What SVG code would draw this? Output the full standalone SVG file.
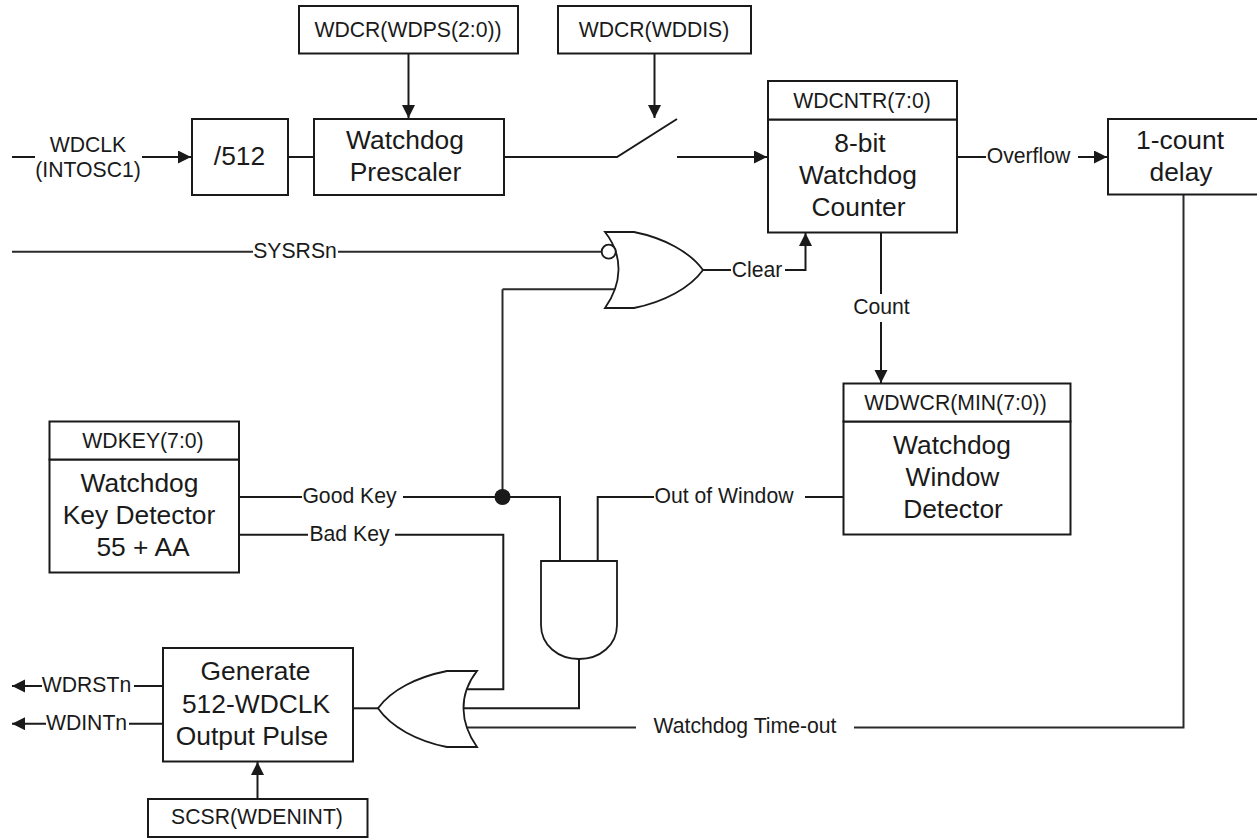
<svg xmlns="http://www.w3.org/2000/svg" width="1257" height="838" viewBox="0 0 1257 838">
<style>
text{font-family:"Liberation Sans",Arial,sans-serif;fill:#1a1a1a;text-anchor:middle}
.b{fill:#fff;stroke:#1a1a1a;stroke-width:2}
.g{fill:#fff;stroke:#1a1a1a;stroke-width:1.8}
.l{font-size:21.2px}
.t{font-size:26.4px}
.c{fill:none;stroke:#1a1a1a;stroke-width:2}
.w{fill:none;stroke:#2a2a2a;stroke-width:2}
.a{fill:#1a1a1a;stroke:none}
</style>
<defs>
<marker id="ah" markerUnits="userSpaceOnUse" markerWidth="14" markerHeight="14" refX="13" refY="6.500" orient="auto"><path class="a" d="M0 0L13 6.500L0 13z"/></marker>
</defs>
<rect width="1257" height="838" fill="#fff"/>
<g id="connectors">
<path class="c" d="M12 157H35"/>
<path class="c" marker-end="url(#ah)" d="M142 157H191"/>
<path class="c" d="M288 157H314"/>
<path class="c" marker-end="url(#ah)" d="M408.500 53V118"/>
<path class="c" marker-end="url(#ah)" d="M654.500 53V118"/>
<path class="c" d="M504 157H617L677 119"/>
<path class="c" marker-end="url(#ah)" d="M677 157H767"/>
<path class="c" d="M957 157H986"/>
<path class="c" marker-end="url(#ah)" d="M1078 157H1107"/>
<path class="w" d="M12 251.700H253"/>
<path class="w" d="M338 251.700H602"/>
<path class="c" d="M703 270H731"/>
<path class="c" marker-end="url(#ah)" d="M785 270H805.500V233"/>
<path class="c" d="M881 232V294"/>
<path class="c" marker-end="url(#ah)" d="M881 322V383"/>
<path class="w" d="M502.500 289.300H615"/>
<path class="w" d="M502.500 289.300V497"/>
<path class="c" d="M239 497H302"/>
<path class="c" d="M403 497H560V561"/>
<path class="c" d="M239 534.700H308"/>
<path class="c" d="M395 534.700H503.300V689.300H467"/>
<path class="c" d="M597.700 561V497H654"/>
<path class="c" d="M805 497H843"/>
<path class="c" d="M579 659V708.300H463"/>
<path class="w" d="M467 727.500H636"/>
<path class="w" d="M854 727.500H1183.500V194"/>
<path class="c" d="M353 708.300H378"/>
<path class="c" marker-end="url(#ah)" d="M42 686H12"/>
<path class="c" marker-end="url(#ah)" d="M46 723.700H12"/>
<path class="c" d="M134 686H163"/>
<path class="c" d="M129 723.700H163"/>
<path class="c" marker-end="url(#ah)" d="M257.500 799V762"/>
<circle class="a" cx="502.500" cy="497" r="8"/>
</g>
<g id="wdclk-label"><text class="l" x="88" y="152">WDCLK</text><text class="l" x="88" y="177">(INTOSC1)</text></g>
<g id="div512"><rect class="b" x="192" y="119" width="96" height="76"/><text class="t" x="239.500" y="165">/512</text></g>
<g id="prescaler"><rect class="b" x="314" y="119" width="190" height="76"/><text class="t" x="405" y="149">Watchdog</text><text class="t" x="405.500" y="181">Prescaler</text></g>
<g id="wdps"><rect class="b" x="299" y="6" width="219" height="47.500"/><text class="l" x="408" y="37">WDCR(WDPS(2:0))</text></g>
<g id="wddis"><rect class="b" x="558" y="6" width="193" height="47.500"/><text class="l" x="654" y="37">WDCR(WDDIS)</text></g>
<g id="counter"><rect class="b" x="768" y="119.500" width="189" height="113"/><rect class="b" x="768" y="81" width="189" height="38.500"/><text class="l" x="862" y="107.500">WDCNTR(7:0)</text><text class="t" x="860" y="152">8-bit</text><text class="t" x="858" y="184">Watchdog</text><text class="t" x="858.500" y="216">Counter</text></g>
<g id="delay"><rect class="b" x="1108" y="119" width="154" height="75.500"/><text class="t" x="1180" y="149">1-count</text><text class="t" x="1181" y="181">delay</text></g>
<g id="nor"><path class="g" d="M605 232H634C664 238 690 252 703 270C690 288 664 302 634 308H605C622 284 624 256 605 232Z"/><circle class="g" cx="608.700" cy="251.700" r="7"/></g>
<g id="window"><rect class="b" x="843.500" y="421.500" width="227" height="113"/><rect class="b" x="843.500" y="383.500" width="227" height="38"/><text class="l" x="955.500" y="409.500">WDWCR(MIN(7:0))</text><text class="t" x="952" y="453.500">Watchdog</text><text class="t" x="952.500" y="486">Window</text><text class="t" x="953" y="518">Detector</text></g>
<g id="key"><rect class="b" x="49.500" y="459.500" width="189.500" height="113"/><rect class="b" x="49.500" y="421.500" width="189.500" height="38"/><text class="l" x="143" y="447.500">WDKEY(7:0)</text><text class="t" x="139.500" y="492">Watchdog</text><text class="t" x="139" y="524">Key Detector</text><text class="t" x="143" y="556">55 + AA</text></g>
<g id="and"><path class="g" d="M541 561H617V625C617 645 600 659 579 659C558 659 541 645 541 625Z"/></g>
<g id="or"><path class="g" d="M477 671H447C417 677 391 690 378 708.300C391 727 417 741 447 747H477C460 723 458 695 477 671Z"/></g>
<g id="pulse"><rect class="b" x="163" y="648" width="190" height="113.500"/><text class="t" x="255.500" y="680">Generate</text><text class="t" x="256" y="712.500">512-WDCLK</text><text class="t" x="252" y="744.500">Output Pulse</text></g>
<g id="scsr"><rect class="b" x="148" y="799" width="219.500" height="38"/><text class="l" x="257" y="823.500">SCSR(WDENINT)</text></g>
<g id="labels">
<text class="l" x="1028.500" y="163">Overflow</text>
<text class="l" x="295" y="258">SYSRSn</text>
<text class="l" x="757" y="277">Clear</text>
<text class="l" x="881.500" y="314">Count</text>
<text class="l" x="349.500" y="503">Good Key</text>
<text class="l" x="349.500" y="541">Bad Key</text>
<text class="l" x="724" y="503">Out of Window</text>
<text class="l" x="745" y="733">Watchdog Time-out</text>
<text class="l" x="86.500" y="692">WDRSTn</text>
<text class="l" x="86.500" y="729.500">WDINTn</text>
</g>
</svg>
